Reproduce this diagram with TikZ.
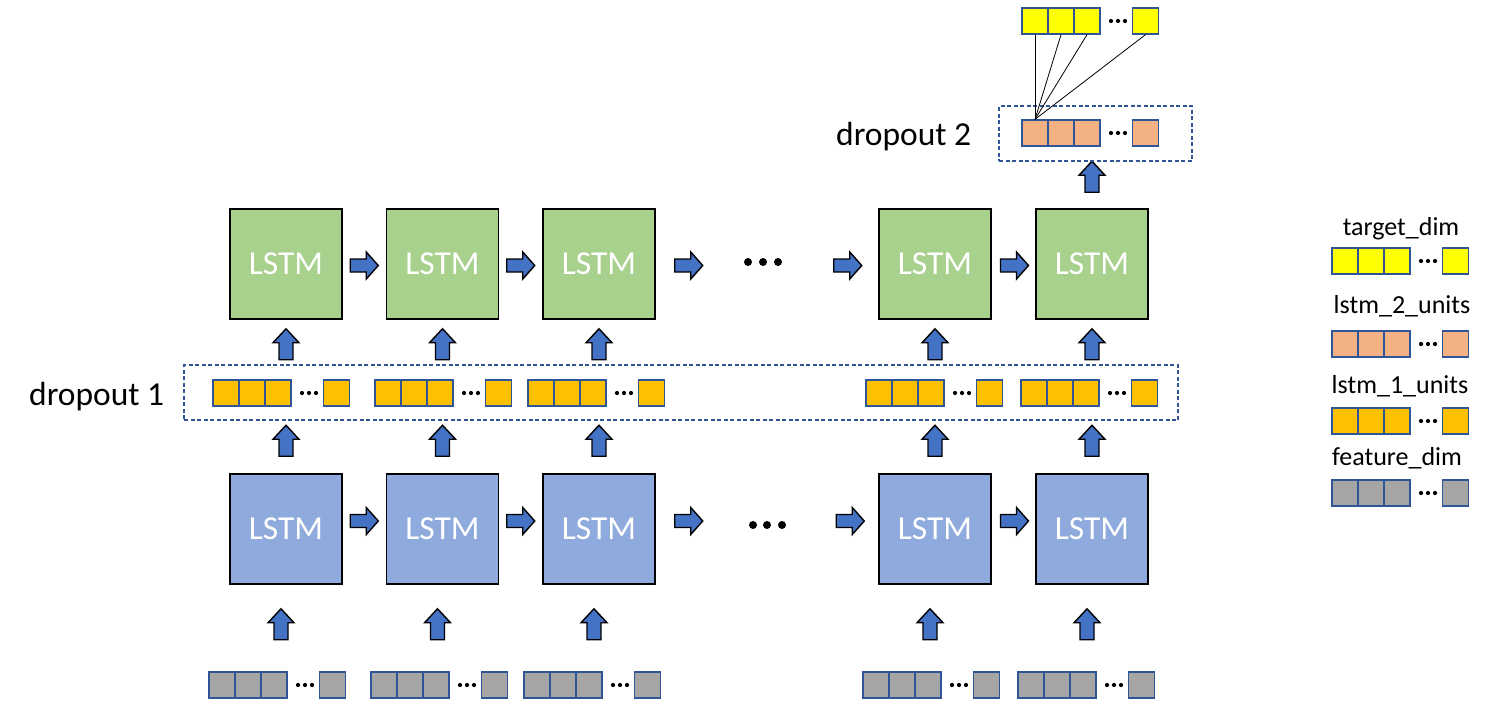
\documentclass[tikz,border=0pt]{standalone}
\usepackage{fontspec}
\setmainfont{Carlito}
\usetikzlibrary{calc}
\definecolor{lgreen}{HTML}{A9D18E}
\definecolor{lblue}{HTML}{8FAADC}
\definecolor{arrblue}{HTML}{4472C4}
\definecolor{cellborder}{HTML}{2F5597}
\definecolor{cyellow}{HTML}{FFFF00}
\definecolor{corange}{HTML}{F4B183}
\definecolor{cgold}{HTML}{FFC000}
\definecolor{cgray}{HTML}{A5A5A5}
\newcommand\mkcells[4]{%
  \node[cell,fill=#4] (#1a) at ({#2+13},{#3+13}) {};
  \node[cell,fill=#4] (#1b) at ({#2+39},{#3+13}) {};
  \node[cell,fill=#4] (#1c) at ({#2+65},{#3+13}) {};
  \node[cell,fill=#4] (#1d) at ({#2+123.5},{#3+13}) {};
  \foreach \dx in {89,96,103} \fill ({#2+\dx},{#3+13}) circle (2.1pt);
}
\begin{document}
\begin{tikzpicture}[x=1pt,y=-1pt,
  cell/.style={draw=cellborder,line width=1.3pt,minimum width=26pt,minimum height=26pt,inner sep=0pt},
  lstm/.style={draw=black,line width=1.5pt,minimum width=112pt,minimum height=110pt,inner sep=0pt,
    text=white,font=\fontsize{33.5}{40}\selectfont},
  dashbox/.style={draw=cellborder,line width=1.3pt,dash pattern=on 4pt off 2.5pt,inner sep=0pt},
  arrst/.style={draw=black,line width=1.4pt,fill=arrblue,line join=miter},
  uparr/.pic={\path[arrst] (-7,0) -- (-7,-17) -- (-13,-17) -- (0,-31) -- (13,-17) -- (7,-17) -- (7,0) -- cycle;},
  rarr/.pic={\path[arrst] (-14,-6.5) -- (2,-6.5) -- (2,-13.5) -- (14,0) -- (2,13.5) -- (2,6.5) -- (-14,6.5) -- cycle;},
  lbl/.style={font=\fontsize{33.5}{40}\selectfont,inner sep=0pt},
  leg/.style={font=\fontsize{26}{31}\selectfont,inner sep=0pt,anchor=base}
]
\useasboundingbox (0,0) rectangle (1496,724);

% LSTM layer 2 (green)
\node[lstm,fill=lgreen] (g1) at (286,264) {LSTM};
\node[lstm,fill=lgreen] (g2) at (442.5,264) {LSTM};
\node[lstm,fill=lgreen] (g3) at (599,264) {LSTM};
\node[lstm,fill=lgreen] (g4) at (935,264) {LSTM};
\node[lstm,fill=lgreen] (g5) at (1092,264) {LSTM};
% LSTM layer 1 (blue)
\node[lstm,fill=lblue] (b1) at (286,529) {LSTM};
\node[lstm,fill=lblue] (b2) at (442.5,529) {LSTM};
\node[lstm,fill=lblue] (b3) at (599,529) {LSTM};
\node[lstm,fill=lblue] (b4) at (935,529) {LSTM};
\node[lstm,fill=lblue] (b5) at (1092,529) {LSTM};

% horizontal arrows green
\pic at ($(g1.east)!0.5!(g2.west)+(0,1.5)$) {rarr};
\pic at ($(g2.east)!0.5!(g3.west)+(0,1.5)$) {rarr};
\pic at ($(g3.east)+(33,1.5)$) {rarr};
\pic at ($(g4.west)+(-30.5,1.5)$) {rarr};
\pic at ($(g4.east)!0.5!(g5.west)+(1,1.5)$) {rarr};
\foreach \xx in {748,763,778} \fill (\xx,262) circle (4pt);
% horizontal arrows blue
\pic at ($(b1.east)!0.5!(b2.west)+(0,-8)$) {rarr};
\pic at ($(b2.east)!0.5!(b3.west)+(0,-8)$) {rarr};
\pic at ($(b3.east)+(33,-8)$) {rarr};
\pic at ($(b4.west)+(-28,-8)$) {rarr};
\pic at ($(b4.east)!0.5!(b5.west)+(1,-8)$) {rarr};
\foreach \xx in {753,767,782} \fill (\xx,525) circle (4pt);

% dropout 1
\node[dashbox,minimum width=994pt,minimum height=55pt] (d1) at (681,392.5) {};
\node[lbl,anchor=base west] (d1lbl) at (29,405) {dropout 1};
\mkcells{ga}{213}{380}{cgold}
\mkcells{gb}{375}{380}{cgold}
\mkcells{gc}{528}{380}{cgold}
\mkcells{gd}{866}{380}{cgold}
\mkcells{ge}{1021}{380}{cgold}

% input rows
\mkcells{ia}{209}{672}{cgray}
\mkcells{ib}{371}{672}{cgray}
\mkcells{ic}{524}{672}{cgray}
\mkcells{id}{863}{672}{cgray}
\mkcells{ie}{1018}{672}{cgray}

% up arrows
\foreach \n in {1,...,5} {
  \pic at ($(g\n.south)+(0,40)$) {uparr};
  \pic at ($(b\n.north)+(0,-17)$) {uparr};
  \pic at ($(b\n.south)+(-5,55)$) {uparr};
}
\pic at ($(g5.north)+(0,-16)$) {uparr};

% dropout 2 and output
\node[dashbox,minimum width=193pt,minimum height=55pt] (d2) at (1095.5,133.5) {};
\node[lbl,anchor=base west] (d2lbl) at (836,145) {dropout 2};
\mkcells{o}{1022}{120}{corange}
\mkcells{y}{1022}{8}{cyellow}
\foreach \c in {a,b,c,d} \draw[line width=0.8pt] (oa.north) -- (y\c.south);

% legend
\node[leg] (l1) at (1401,235) {target\_dim};
\mkcells{ly}{1332}{248}{cyellow}
\node[leg] (l2) at (1402,313) {lstm\_2\_units};
\mkcells{lo}{1332}{331}{corange}
\node[leg] (l3) at (1400,393) {lstm\_1\_units};
\mkcells{lg}{1332}{408}{cgold}
\node[leg] (l4) at (1397,465) {feature\_dim};
\mkcells{lr}{1332}{480}{cgray}
\end{tikzpicture}
\end{document}
